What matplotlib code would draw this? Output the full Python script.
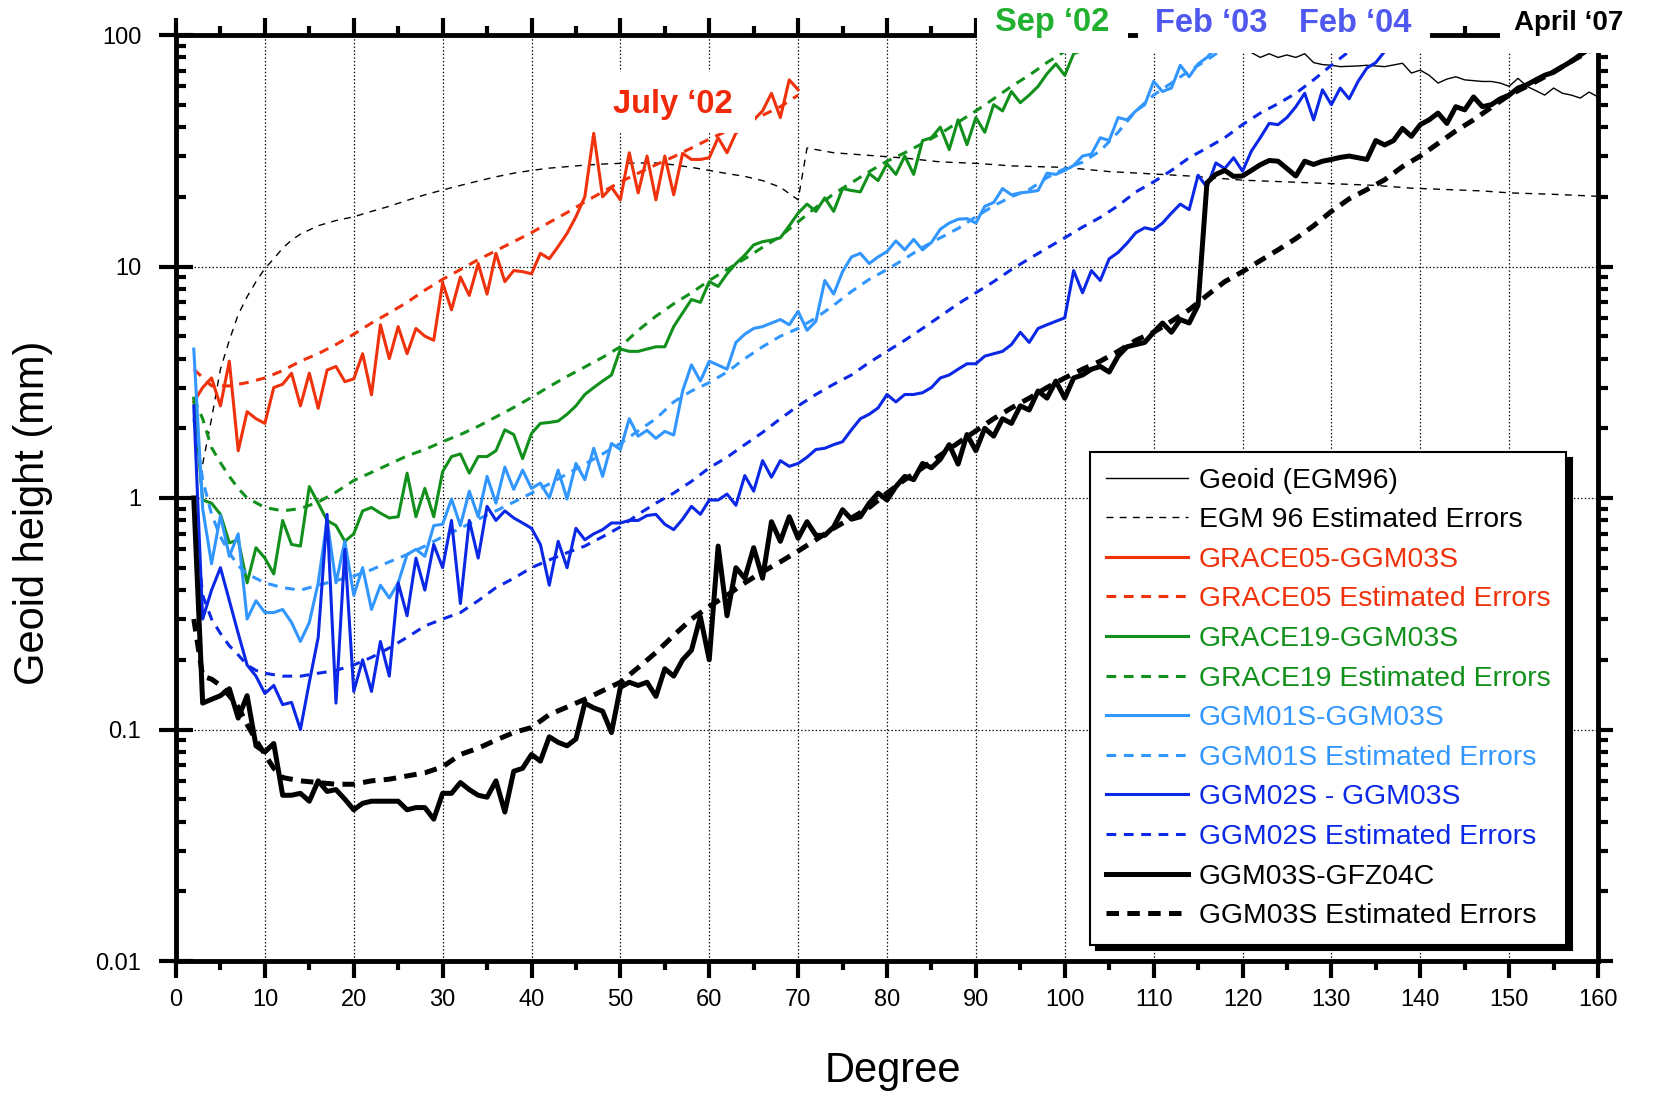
"""Geoid height degree variances of GRACE-era gravity models vs. spherical harmonic degree."""

import numpy as np
import matplotlib
matplotlib.use("Agg")
import matplotlib.pyplot as plt
from matplotlib import font_manager
from matplotlib.patches import Rectangle
from matplotlib.ticker import LogLocator, MultipleLocator, NullFormatter

# ---- values (geoid height, mm) ----
geoid_deg = [108, 112, 116, 119, 121, 122, 123, 124, 125, 126, 127, 128, 129, 130, 131,
             133, 134, 136, 138, 139, 140, 141, 142, 143, 144, 145, 146, 147, 148, 149,
             150, 151, 152, 153, 154, 155, 156, 157, 158, 159, 160]
geoid = [115, 100, 92, 88, 84, 80, 83, 80, 82, 80, 83, 76, 74.5, 74, 73,
         73.5, 74, 73, 75.5, 68.5, 70.5, 67, 62, 64.5, 66, 64, 63.5, 63, 63, 62,
         60, 65, 60, 57.5, 55, 59, 56, 55, 53.4, 56.7, 54]

egm_err_deg = [3, 4, 5, 6, 7, 8, 9, 10, 11, 12, 13, 14,
               16, 18, 20, 22, 24, 26, 28, 30, 32, 34, 36, 38, 40, 42, 44, 46, 48, 50,
               52, 54, 56, 58, 60, 62, 64, 66, 68, 70,
               71, 74, 79, 82, 86, 90, 94, 100, 105, 110, 114, 120, 125, 130, 135,
               139, 143, 147, 150, 155, 160]
egm_err = [1.4, 2.2, 3.6, 4.8, 6.2, 7.4, 8.6, 9.8, 10.8, 12, 13, 13.8,
           15, 15.8, 16.4, 17.3, 18.2, 19.3, 20.4, 21.4, 22.4, 23.4, 24.4, 25.3, 26, 26.6,
           27, 27.4, 27.7, 27.9, 28, 28, 27.5, 26.8, 26, 25.2, 24.5, 23.5, 22, 19.4,
           32.5, 31, 30, 29.4, 28.3, 27.9, 27.2, 26.8, 25.7, 25.1, 24.6, 23.6, 23.2, 22.8,
           22.4, 21.8, 21.5, 21.2, 20.8, 20.5, 20.1]

# GRACE05 - GGM03S, degrees 2..70
grace05 = [2.6, 3.0, 3.3, 2.5, 3.9, 1.6, 2.36, 2.2, 2.1, 3.0,
           3.1, 3.46, 2.5, 3.46, 2.44, 3.57, 3.7, 3.18, 3.27, 4.2,
           2.79, 5.6, 4.0, 5.5, 4.2, 5.4, 5.0, 4.8, 8.5, 6.5,
           9.0, 7.5, 10.3, 7.6, 11.4, 8.6, 9.6, 9.5, 9.3, 11.4,
           10.8, 12.2, 13.9, 16.4, 20, 37.6, 20, 22, 19.4, 31,
           20.8, 30, 19.4, 30, 20.4, 30.8, 29, 29, 29.5, 36,
           31, 37.7, 40, 43, 47, 56, 44, 64, 58]
grace05_err_deg = list(range(2, 71, 2))
grace05_err = [3.6, 3.05, 3.05, 3.15, 3.3, 3.55, 3.9, 4.2, 4.6, 5.1,
               5.7, 6.3, 7.0, 7.9, 8.8, 9.7, 10.7, 11.7, 12.8, 14.0,
               15.5, 17.1, 19, 21, 23.2, 25.3, 27.5, 29.8, 32.5, 35.5,
               38.5, 41.5, 45, 49, 55]

# GRACE19 - GGM03S, degrees 2..104
grace19 = [2.7, 0.98, 0.95, 0.85, 0.64, 0.66, 0.43, 0.61, 0.55, 0.47,
           0.80, 0.63, 0.62, 1.12, 0.95, 0.80, 0.76, 0.65, 0.70, 0.88,
           0.91, 0.86, 0.82, 0.83, 1.28, 0.83, 1.1, 0.83, 1.3, 1.51,
           1.55, 1.28, 1.51, 1.51, 1.6, 1.97, 1.88, 1.48, 1.9, 2.1,
           2.12, 2.15, 2.3, 2.5, 2.8, 3.0, 3.2, 3.4, 4.4, 4.3,
           4.3, 4.4, 4.5, 4.5, 5.5, 6.3, 7.2, 7.0, 8.6, 8.2,
           9.3, 10.3, 11.2, 12.4, 12.8, 13.0, 13.3, 15, 17, 18.6,
           17.3, 19.8, 17.3, 21.7, 21.3, 21, 25.2, 23.5, 27.8, 25,
           30, 25, 35, 36, 40, 32, 43, 33.6, 44, 38,
           50, 47, 57, 51, 55, 60, 68, 75, 67, 83,
           86, 95, 110]
grace19_err_deg = [2, 3, 4, 5, 6, 7, 8] + list(range(10, 105, 2))
grace19_err = [2.7, 2.2, 1.65, 1.42, 1.24, 1.1, 1.0,
               0.91, 0.88, 0.9, 0.96, 1.06, 1.19, 1.29, 1.4, 1.52, 1.62,
               1.75, 1.88, 2.04, 2.24, 2.46, 2.72, 3.03, 3.35, 3.68, 4.05,
               4.5, 5.3, 6.1, 6.9, 7.7, 8.7, 9.7, 10.8, 12.1, 13.5,
               15.6, 18, 20.6, 23, 25.7, 28.5, 31, 34, 37.5, 42,
               47, 53, 60, 67, 76, 85, 96, 108]

# GGM01S - GGM03S, degrees 2..119
ggm01 = [4.4, 0.9, 0.52, 0.84, 0.56, 0.70, 0.30, 0.36, 0.32, 0.32,
         0.33, 0.29, 0.24, 0.29, 0.43, 0.80, 0.43, 0.65, 0.38, 0.50,
         0.33, 0.42, 0.37, 0.43, 0.57, 0.6, 0.56, 0.76, 0.77, 0.99,
         0.76, 1.07, 0.83, 1.24, 0.95, 1.36, 1.09, 1.32, 1.1, 1.16,
         1.0, 1.32, 0.99, 1.41, 1.2, 1.64, 1.24, 1.72, 1.62, 2.2,
         1.85, 1.96, 1.81, 1.94, 1.87, 2.9, 3.76, 3.2, 3.9, 3.75,
         3.6, 4.7, 5.1, 5.4, 5.5, 5.7, 5.9, 5.6, 6.4, 5.3,
         5.8, 8.7, 7.6, 9.5, 11, 11.4, 10.3, 11, 11.6, 12.9,
         11.8, 13.1, 11.8, 12.7, 14.5, 15.4, 16, 16.1, 15.4, 18.2,
         18.9, 21.7, 20.4, 20.8, 21, 21.3, 25.3, 25, 26, 27.3,
         30, 30.6, 36, 35, 44, 43, 47, 50, 63, 57,
         59, 74, 66, 75, 80, 88, 100, 110]
ggm01_err_deg = [2, 3, 4, 5, 6, 7, 8] + list(range(10, 121, 2))
ggm01_err = [2.2, 1.2, 0.85, 0.68, 0.58, 0.51, 0.47,
             0.43, 0.41, 0.40, 0.42, 0.44, 0.46, 0.49, 0.53, 0.57, 0.62,
             0.68, 0.74, 0.81, 0.88, 0.96, 1.05, 1.15, 1.27, 1.4, 1.55,
             1.72, 1.95, 2.2, 2.6, 2.9, 3.15, 3.5, 4.0, 4.5, 5.0,
             5.4, 6.0, 6.8, 7.8, 8.8, 9.7, 10.8, 12.1, 13.3, 14.6,
             16.4, 18.3, 20, 21.5, 24.2, 26.5, 28.2, 31.6, 38, 47,
             55, 62, 70, 78, 88, 100]

# GGM02S - GGM03S, degrees 2..137
ggm02 = [2.5, 0.30, 0.40, 0.50, 0.36, 0.26, 0.19, 0.17, 0.143, 0.155,
         0.128, 0.131, 0.10, 0.16, 0.25, 0.85, 0.13, 0.60, 0.146, 0.2,
         0.146, 0.24, 0.17, 0.43, 0.31, 0.55, 0.40, 0.63, 0.50, 0.80,
         0.35, 0.80, 0.55, 0.92, 0.80, 0.88, 0.82, 0.78, 0.74, 0.63,
         0.42, 0.65, 0.50, 0.74, 0.66, 0.70, 0.73, 0.78, 0.78, 0.80,
         0.80, 0.84, 0.85, 0.77, 0.73, 0.81, 0.92, 0.85, 0.98, 0.98,
         1.04, 0.93, 1.25, 1.07, 1.45, 1.23, 1.45, 1.37, 1.41, 1.5,
         1.62, 1.64, 1.7, 1.75, 1.97, 2.2, 2.3, 2.45, 2.8, 2.6,
         2.8, 2.8, 2.85, 3.0, 3.3, 3.4, 3.6, 3.8, 3.8, 4.1,
         4.2, 4.3, 4.6, 5.2, 4.7, 5.4, 5.6, 5.8, 6.0, 9.6,
         7.7, 9.6, 8.7, 10.8, 11.5, 12.6, 14, 14.7, 14.4, 15.4,
         17, 18.6, 17.6, 24.8, 22, 28, 26.5, 29.5, 25.8, 31.5,
         36, 41.5, 41, 44, 49, 56, 43, 58, 50, 59,
         53, 63, 72, 76, 85, 100]
ggm02_err_deg = [2, 3, 4, 5, 6, 7, 8, 9] + list(range(10, 137, 2))
ggm02_err = [0.9, 0.38, 0.30, 0.26, 0.23, 0.21, 0.19, 0.18,
             0.175, 0.17, 0.17, 0.175, 0.18, 0.19, 0.205, 0.225, 0.25, 0.28,
             0.30, 0.32, 0.36, 0.41, 0.45, 0.50, 0.54, 0.58, 0.62, 0.68,
             0.75, 0.85, 0.95, 1.05, 1.18, 1.35, 1.5, 1.7, 1.92, 2.2,
             2.5, 2.8, 3.1, 3.4, 3.85, 4.3, 4.8, 5.4, 6.1, 6.9,
             7.7, 8.6, 9.7, 10.8, 12, 13.3, 14.8, 16.3, 18.3, 21,
             23.2, 26, 29.5, 32.5, 36, 41, 46, 50.5, 56, 64,
             74, 85, 98, 110]

# GGM03S - GFZ04C, degrees 2..160
ggm03 = [1.0, 0.13, 0.135, 0.14, 0.15, 0.112, 0.14, 0.085, 0.08, 0.087,
         0.052, 0.052, 0.053, 0.049, 0.06, 0.054, 0.055, 0.05, 0.045, 0.048,
         0.049, 0.049, 0.049, 0.049, 0.045, 0.046, 0.046, 0.041, 0.053, 0.053,
         0.059, 0.055, 0.052, 0.051, 0.06, 0.044, 0.066, 0.068, 0.078, 0.073,
         0.093, 0.088, 0.085, 0.091, 0.13, 0.124, 0.12, 0.097, 0.152, 0.16,
         0.155, 0.16, 0.139, 0.183, 0.17, 0.2, 0.22, 0.307, 0.2, 0.62,
         0.31, 0.5, 0.45, 0.61, 0.45, 0.79, 0.65, 0.83, 0.67, 0.79,
         0.69, 0.69, 0.75, 0.89, 0.81, 0.83, 0.95, 1.05, 0.98, 1.12,
         1.24, 1.2, 1.41, 1.35, 1.47, 1.7, 1.4, 1.88, 1.6, 2.0,
         1.85, 2.2, 2.1, 2.5, 2.4, 2.9, 2.7, 3.2, 2.7, 3.3,
         3.4, 3.6, 3.7, 3.5, 4.1, 4.5, 4.6, 4.7, 5.2, 5.7,
         5.2, 5.9, 5.7, 6.8, 23, 25, 26, 24.5, 24.6, 26,
         27.5, 28.7, 28.5, 26.5, 24.6, 28.5, 27.6, 28.5, 29, 29.6,
         30, 29.5, 29, 35, 33.5, 35, 39.5, 36.5, 41, 43,
         46, 41.5, 49, 47.5, 54, 49, 50, 53, 55, 59,
         61, 64, 67, 69, 73, 77, 82, 87, 92]
ggm03_err_deg = [2, 3, 4, 5, 6, 7, 8, 9, 10, 11] + list(range(12, 161, 2))
ggm03_err = [0.30, 0.17, 0.165, 0.155, 0.14, 0.125, 0.105, 0.09, 0.078, 0.068,
             0.062, 0.06, 0.059, 0.058, 0.058, 0.06, 0.061, 0.063, 0.065, 0.069,
             0.078, 0.083, 0.09, 0.097, 0.102, 0.116, 0.125, 0.135, 0.147, 0.16,
             0.185, 0.215, 0.255, 0.30, 0.34, 0.38, 0.43, 0.48, 0.53, 0.59,
             0.66, 0.74, 0.82, 0.91, 1.05, 1.2, 1.35, 1.53, 1.73, 1.95,
             2.2, 2.45, 2.7, 3.0, 3.3, 3.6, 3.9, 4.3, 4.8, 5.2,
             5.8, 6.5, 7.5, 8.6, 9.5, 10.6, 11.8, 13.2, 15, 17.3,
             19.6, 21.5, 23.7, 27, 30, 34, 38.5, 43, 48.7, 55,
             60, 66, 73, 81, 90]

x_ticks = list(range(0, 161, 10))
y_ticks = [0.01, 0.1, 1, 10, 100]
y_tick_labels = ["0.01", "0.1", "1", "10", "100"]
epoch_labels = ["July \u201802", "Sep \u201802", "Feb \u201803", "Feb \u201804", "April \u201807"]

RED = "#f0320c"
GREEN = "#12901c"
LIGHT_BLUE = "#3296ff"
DARK_BLUE = "#0a28e6"

installed = {f.name for f in font_manager.fontManager.ttflist}
NARROW = "Liberation Sans Narrow" if "Liberation Sans Narrow" in installed else "Liberation Sans"
plt.rcParams["font.family"] = ["Liberation Sans", "DejaVu Sans"]
plt.rcParams["lines.scale_dashes"] = False

W, H = 1659, 1095
fig = plt.figure(figsize=(W / 100, H / 100), dpi=100)
ax = fig.add_axes([176 / W, 1 - 961 / H, (1598 - 176) / W, (961 - 35) / H])


def deg_from(start, vals):
    return np.arange(start, start + len(vals))


ax.plot(geoid_deg, geoid, color="k", lw=1.0, label="Geoid (EGM96)")
ax.plot(egm_err_deg, egm_err, color="k", lw=1.0, dashes=(5, 4.5), label="EGM 96 Estimated Errors")
ax.plot(deg_from(2, grace05), grace05, color=RED, lw=2.2, label="GRACE05-GGM03S")
ax.plot(grace05_err_deg, grace05_err, color=RED, lw=2.2, dashes=(7, 5.5), label="GRACE05 Estimated Errors")
ax.plot(deg_from(2, grace19), grace19, color=GREEN, lw=2.2, label="GRACE19-GGM03S")
ax.plot(grace19_err_deg, grace19_err, color=GREEN, lw=2.2, dashes=(7, 5.5), label="GRACE19 Estimated Errors")
ax.plot(deg_from(2, ggm01), ggm01, color=LIGHT_BLUE, lw=2.2, label="GGM01S-GGM03S")
ax.plot(ggm01_err_deg, ggm01_err, color=LIGHT_BLUE, lw=2.2, dashes=(7, 5.5), label="GGM01S Estimated Errors")
ax.plot(deg_from(2, ggm02), ggm02, color=DARK_BLUE, lw=2.2, label="GGM02S - GGM03S")
ax.plot(ggm02_err_deg, ggm02_err, color=DARK_BLUE, lw=2.2, dashes=(7, 5.5), label="GGM02S Estimated Errors")
ax.plot(deg_from(2, ggm03), ggm03, color="k", lw=3.6, label="GGM03S-GFZ04C")
ax.plot(ggm03_err_deg, ggm03_err, color="k", lw=3.6, dashes=(9, 6), label="GGM03S Estimated Errors")

ax.set_xlim(0, 160)
ax.set_yscale("log")
ax.set_ylim(0.01, 100)
ax.set_xticks(x_ticks, [str(t) for t in x_ticks], fontfamily=NARROW, fontsize=17)
ax.xaxis.set_minor_locator(MultipleLocator(5))
ax.set_yticks(y_ticks, y_tick_labels, fontfamily=NARROW, fontsize=17)
ax.yaxis.set_minor_locator(LogLocator(base=10, subs=np.arange(2, 10), numticks=100))
ax.yaxis.set_minor_formatter(NullFormatter())

ax.grid(True, which="major", color="k", lw=0.9, linestyle=(0, (1, 1.6)))
for s in ax.spines.values():
    s.set_linewidth(3.5)

ax.tick_params(axis="x", which="both", direction="out", top=True, bottom=True, width=3, pad=8)
ax.tick_params(axis="x", which="major", length=12)
ax.tick_params(axis="x", which="minor", length=6.5)
ax.tick_params(axis="y", which="major", direction="inout", length=24, width=3,
               left=True, right=False, pad=13)
ax.tick_params(axis="y", which="minor", direction="in", length=7, width=3, left=True, right=False)

# right-hand ticks point outward
ax2 = ax.twinx()
ax2.set_yscale("log")
ax2.set_ylim(0.01, 100)
ax2.set_yticks(y_ticks)
ax2.yaxis.set_minor_locator(LogLocator(base=10, subs=np.arange(2, 10), numticks=100))
ax2.yaxis.set_minor_formatter(NullFormatter())
ax2.tick_params(axis="y", which="both", direction="out", width=3, labelright=False)
ax2.tick_params(axis="y", which="major", length=11)
ax2.tick_params(axis="y", which="minor", length=7)
for s in ax2.spines.values():
    s.set_visible(False)

fig.text(893 / W, 1 - 1071 / H, "Degree", ha="center", va="center", fontsize=30)
fig.text(33 / W, 1 - 513 / H, "Geoid height (mm)", rotation=90, ha="center", va="center", fontsize=30)

leg = ax.legend(loc="upper left", bbox_to_anchor=(1090 / W, 1 - 452 / H), bbox_transform=fig.transFigure,
                fontsize=20.4, frameon=True, fancybox=False, edgecolor="k", framealpha=1,
                borderpad=0.55, labelspacing=0.48, handlelength=2.9, handletextpad=0.4, borderaxespad=0,
                shadow={"ox": 4, "oy": -4, "facecolor": "k", "edgecolor": "k", "alpha": 1})
leg.get_frame().set_linewidth(1.5)
for txt, ln in zip(leg.get_texts(), leg.get_lines()):
    txt.set_color(ln.get_color())


def cover(x0, y0, x1, y1):
    # white patch in pixel coords (y down), pasted over the frame like the labels in the original
    fig.add_artist(Rectangle((x0 / W, 1 - y1 / H), (x1 - x0) / W, (y1 - y0) / H,
                             transform=fig.transFigure, facecolor="white", edgecolor="none", zorder=5))


cover(603, 72, 755, 133)
cover(977, 0, 1128, 53)
cover(1138, 0, 1430, 53)
cover(1500, 0, 1659, 53)

label_pos = [(673, 104), (1052, 23), (1211, 23), (1355, 23), (1569, 23)]
label_col = ["#f02a08", "#22b030", "#5058ee", "#5058ee", "k"]
label_size = [23.5, 23.5, 23.5, 23.5, 20]
for text, (px, py), c, fs in zip(epoch_labels, label_pos, label_col, label_size):
    fig.text(px / W, 1 - py / H, text, color=c, fontsize=fs, fontweight="bold", family=NARROW,
             ha="center", va="center", zorder=6)

fig.savefig("out.png", dpi=100)
